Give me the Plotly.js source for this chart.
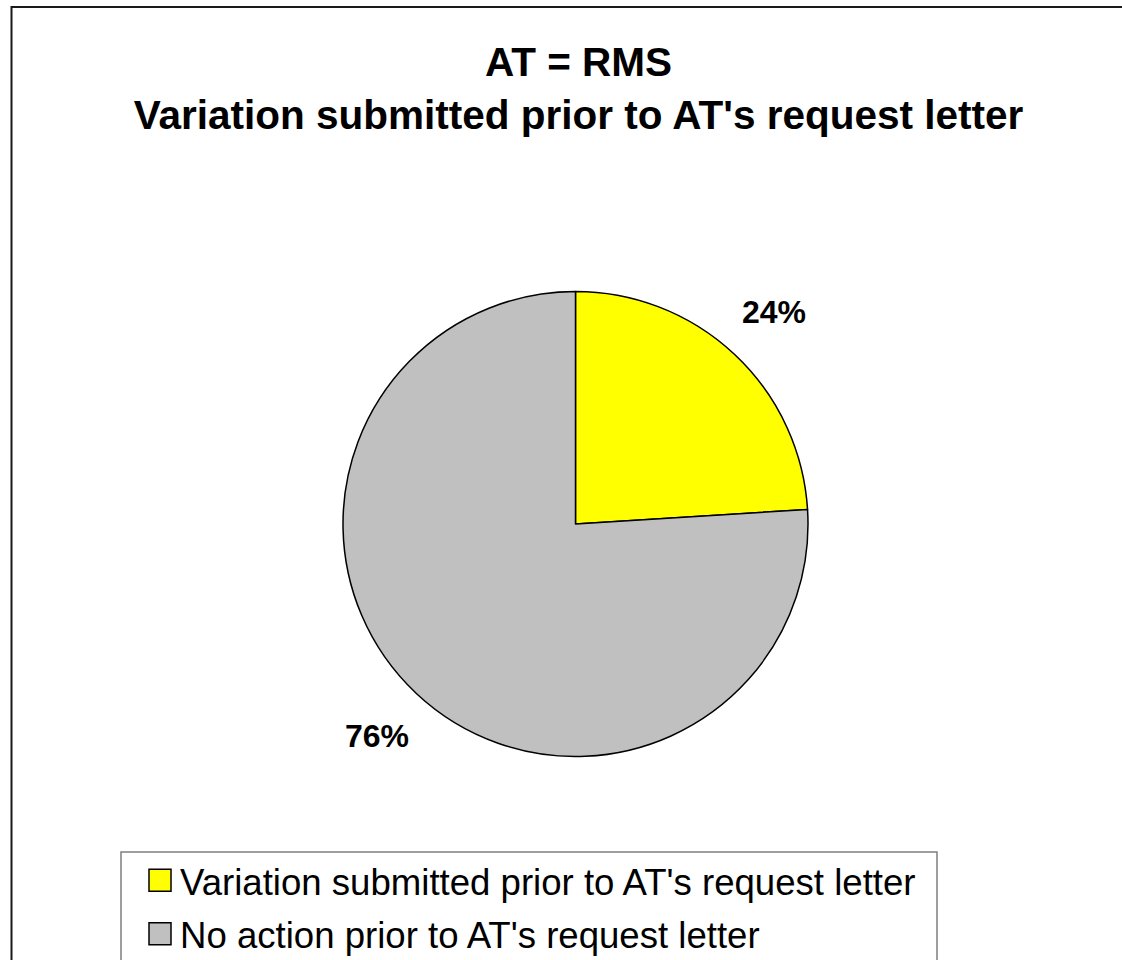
<!DOCTYPE html>
<html>
<head>
<meta charset="utf-8">
<script src="https://cdn.plot.ly/plotly-3.0.1.min.js"></script>
<style>html,body{margin:0;padding:0;background:#fff;}#chart{width:1122px;height:960px;}</style>
</head>
<body>
<div id="chart"></div>
<script>
var categories = ["Variation submitted prior to AT's request letter", "No action prior to AT's request letter"];
var values = [24, 76];
var sliceColors = ["#FFFF00", "#C0C0C0"];
var titleLines = ["AT = RMS", "Variation submitted prior to AT's request letter"];

var W = 1122, H = 960;
var cx = 575.5, cy = 524, R = 232.5;

var total = values.reduce(function(a, b){ return a + b; }, 0);
var annotations = [];
var cum = 0;
for (var i = 0; i < values.length; i++) {
  var mid = (cum + values[i] / 2) / total * 2 * Math.PI;
  cum += values[i];
  var lr = R * 1.25;
  var px = cx + lr * Math.sin(mid);
  var py = cy - lr * Math.cos(mid);
  annotations.push({
    xref: 'paper', yref: 'paper',
    x: px / W, y: 1 - py / H,
    xanchor: 'center', yanchor: 'middle',
    text: '<b>' + Math.round(values[i] / total * 100) + '%</b>',
    showarrow: false,
    font: {family: 'Arial, Liberation Sans, sans-serif', size: 32, color: '#000'}
  });
}

var data = [{
  type: 'pie',
  labels: categories,
  values: values,
  sort: false,
  direction: 'clockwise',
  rotation: 0,
  textinfo: 'none',
  hoverinfo: 'label+percent',
  marker: {colors: sliceColors, line: {color: '#000', width: 1.5}},
  domain: {x: [(cx - R) / W, (cx + R) / W], y: [1 - (cy + R) / H, 1 - (cy - R) / H]}
}];

var layout = {
  width: W, height: H,
  margin: {l: 0, r: 0, t: 0, b: 0, autoexpand: false},
  paper_bgcolor: '#fff',
  font: {family: 'Arial, Liberation Sans, sans-serif', color: '#000'},
  title: {
    text: '<b>' + titleLines.join('<br>') + '</b>',
    font: {family: 'Arial, Liberation Sans, sans-serif', size: 40.5, color: '#000'},
    x: 578.5 / W, xanchor: 'center', xref: 'paper',
    y: 1 - 76 / H, yanchor: 'top', yref: 'container'
  },
  showlegend: true,
  legend: {
    x: 140 / W, y: 1 - 850 / H, xanchor: 'left', yanchor: 'top',
    font: {family: 'Arial, Liberation Sans, sans-serif', size: 36.6, color: '#000'},
    bgcolor: 'rgba(0,0,0,0)', borderwidth: 0, traceorder: 'normal'
  },
  annotations: annotations,
  shapes: [
    {type: 'rect', xref: 'paper', yref: 'paper', x0: 11.5 / W, x1: 1.1, y0: -0.1, y1: 1 - 7 / H,
     line: {color: '#1a1a1a', width: 2}, fillcolor: 'rgba(0,0,0,0)'},
    {type: 'rect', xref: 'paper', yref: 'paper', x0: 121 / W, x1: 937 / W, y0: -0.1, y1: 1 - 852 / H,
     line: {color: '#7f7f7f', width: 1.5}, fillcolor: 'rgba(0,0,0,0)'}
  ]
};

Plotly.newPlot('chart', data, layout, {displayModeBar: false, staticPlot: true}).then(function(gd){
  var pts = gd.querySelectorAll('.legend .legendpoints path');
  pts.forEach(function(p){ p.setAttribute('d', 'M11,11H-11V-11H11Z'); p.style.strokeWidth = '1.5px'; p.style.stroke = '#000'; });
  var items = gd.querySelectorAll('.legend .traces');
  if (items.length > 1) {
    var t = items[1].getAttribute('transform') || '';
    var m = /translate\(\s*([-\d.]+)[ ,]+([-\d.]+)\s*\)/.exec(t);
    if (m) items[1].setAttribute('transform', 'translate(' + m[1] + ',' + (parseFloat(m[2]) + 3) + ')');
  }
});
</script>
</body>
</html>
